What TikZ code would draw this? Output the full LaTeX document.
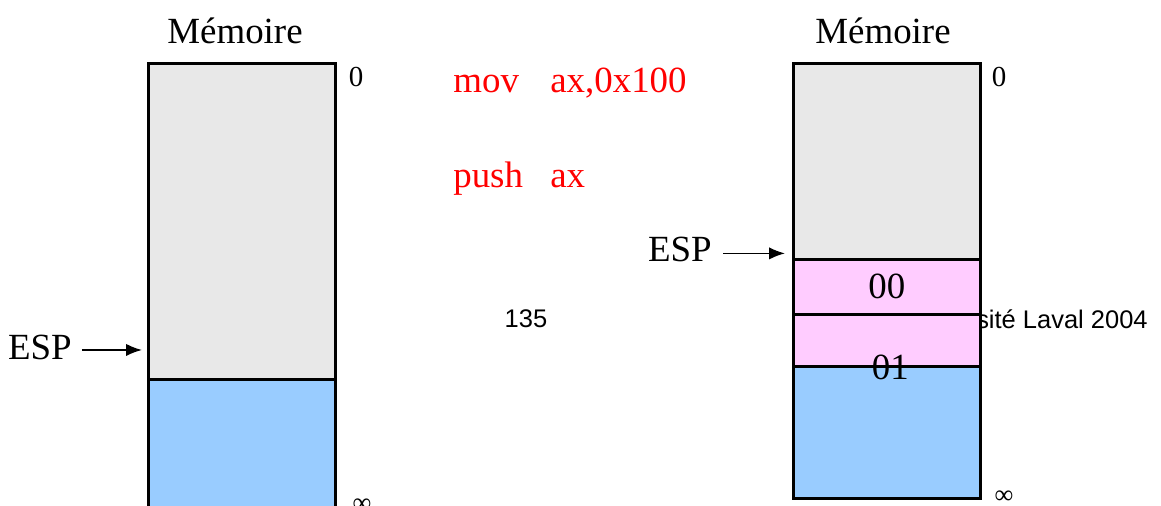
\documentclass[tikz,border=0pt]{standalone}
\usepackage{fontspec}
\setmainfont{Liberation Serif}
\newfontfamily\slidefoot{Liberation Sans}
\usetikzlibrary{arrows.meta,positioning}
\definecolor{MemGrey}{HTML}{E8E8E8}
\definecolor{MemBlue}{HTML}{99CCFF}
\definecolor{MemPink}{HTML}{FFCCFF}
\definecolor{InstrRed}{HTML}{FF0000}
\newcommand{\instr}[2]{\makebox[1.94cm][l]{#1}#2}

\begin{document}
\begin{tikzpicture}[x=0.02cm,y=-0.02cm,>=Latex,
    cell/.style={draw=black,line width=1.5pt,minimum width=3.74cm,inner sep=0pt,anchor=north west},
    big/.style={font=\fontsize{21}{25}\selectfont,inner sep=0pt},
    addr/.style={font=\fontsize{16.5}{20}\selectfont,inner sep=0pt},
    foot/.style={font=\slidefoot\fontsize{14.5}{17}\selectfont,inner sep=0pt},
    ptr/.style={->,line width=1pt,>={Latex[length=9pt,width=7pt]}}]
  \useasboundingbox (0,0) rectangle (1161,506);
  % pied de page (en partie sous la pile)
  \node[foot,anchor=base] (page) at (526,328) {135};
  \node[foot,anchor=base east] (univ) at (1148,329) {Université Laval 2004};
  % memoire avant
  \node[big,anchor=base] (memA) at (235,44) {Mémoire};
  \node[cell,fill=MemGrey,minimum height=6.32cm] (grisA) at (147,62) {};
  \node[cell,fill=MemBlue,minimum height=3cm] (bleuA) at (147,378) {};
  \node[addr,anchor=base] (zeroA) at (356,87) {0};
  \node[addr,font=\fontsize{15}{18}\selectfont] (infA) at (362,505) {∞};
  \node[big,anchor=east] (espA) at (72,347) {ESP};
  \draw[ptr] ([xshift=0.2cm,yshift=-1.7]espA.east) -- ([xshift=-0.1cm,yshift=-1.7]espA.east -| grisA.west);
  % instructions
  \node[big,anchor=base west,text=InstrRed] (mov) at (453,93) {\instr{mov}{ax,0x100}};
  \node[big,anchor=base west,text=InstrRed] (push) at (453,188) {\instr{push}{ax}};
  % memoire apres
  \node[big,anchor=base] (memB) at (883,44) {Mémoire};
  \node[cell,fill=MemGrey,minimum height=3.92cm] (grisB) at (792,62) {};
  \node[cell,fill=MemPink,minimum height=1.1cm,big] (octA) at (792,258) {00};
  \node[cell,fill=MemPink,minimum height=1.04cm] (octB) at (792,313) {};
  \node[cell,fill=MemBlue,minimum height=2.64cm] (bleuB) at (792,365) {};
  \node[big] (val01) at ([xshift=2]octB.south) {01};
  \node[addr,anchor=base] (zeroB) at (999,87) {0};
  \node[addr,font=\fontsize{15}{18}\selectfont] (infB) at (1004,497) {∞};
  \node[big,anchor=east] (espB) at (712,249) {ESP};
  \draw[ptr] ([xshift=0.22cm,yshift=-2.5]espB.east) -- ([xshift=-0.14cm,yshift=-2.5]espB.east -| grisB.west);
\end{tikzpicture}
\end{document}
